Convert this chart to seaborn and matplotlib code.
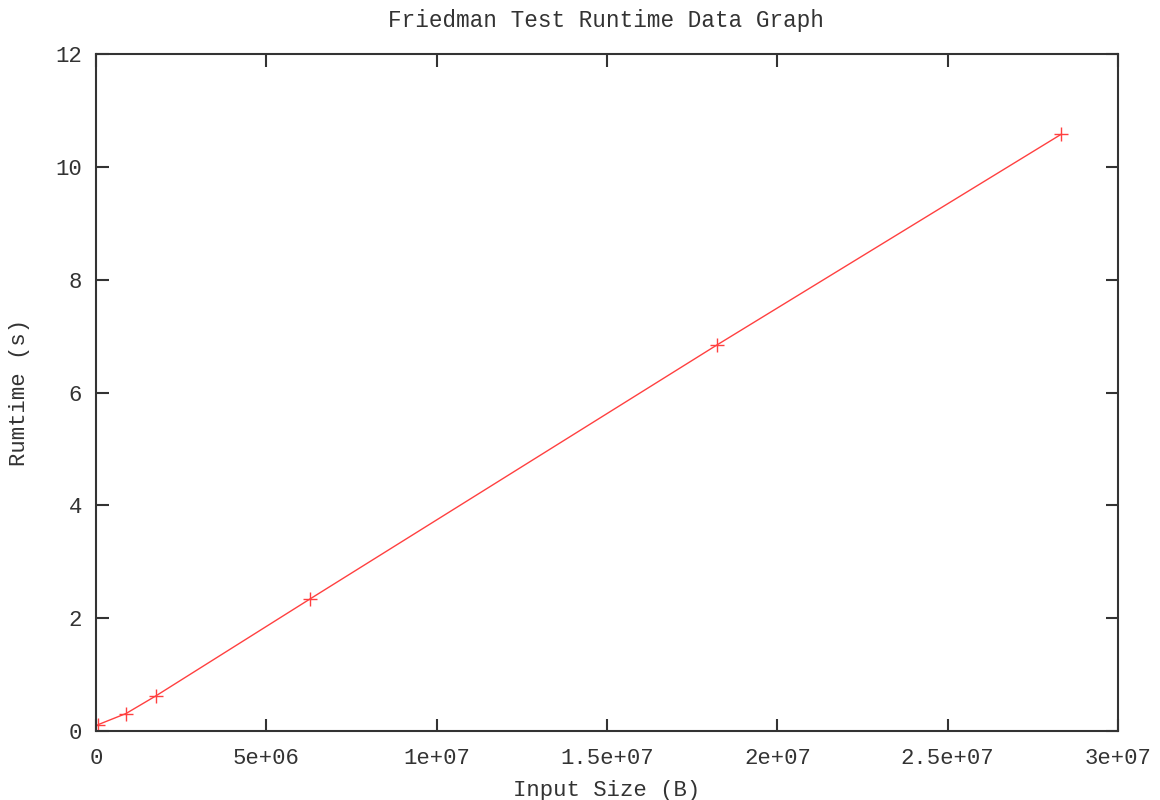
import matplotlib
matplotlib.use("Agg")
import matplotlib.pyplot as plt
import seaborn as sns
import pandas as pd

input_size = [50000, 880000, 1750000, 6280000, 18220000, 28340000]
runtime = [0.11, 0.31, 0.62, 2.34, 6.84, 10.58]
x_ticks = [0, 5e6, 1e7, 1.5e7, 2e7, 2.5e7, 3e7]
x_tick_labels = ["0", "5e+06", "1e+07", "1.5e+07", "2e+07", "2.5e+07", "3e+07"]
y_ticks = [0, 2, 4, 6, 8, 10, 12]

sns.set_style("white")
plt.rcParams['font.family'] = ['Liberation Mono', 'DejaVu Sans Mono']

df = pd.DataFrame({"size": input_size, "runtime": runtime})

fig = plt.figure(figsize=(11.6, 8), dpi=100)
ax = fig.add_axes([0.0828, 0.08625, 0.881, 0.84625])

sns.lineplot(data=df, x="size", y="runtime", ax=ax, color="#ff4040",
             linewidth=1.0, marker="+", markersize=10, markeredgewidth=1.0,
             markeredgecolor="#ff4040", sort=False)

ax.set_xlim(0, 3e7)
ax.set_ylim(0, 12)
ax.set_xticks(x_ticks)
ax.set_xticklabels(x_tick_labels)
ax.set_yticks(y_ticks)
ax.set_yticklabels([str(v) for v in y_ticks])

txt = "#333333"
for s in ax.spines.values():
    s.set_visible(True)
    s.set_color("#333333")
    s.set_linewidth(1.5)

ax.tick_params(axis="both", direction="in", length=9, width=1.5, color="#333333",
               labelsize=16, labelcolor=txt, top=True, right=True,
               bottom=True, left=True, pad=10)
ax.tick_params(axis="x", pad=12)

ax.set_xlabel("Input Size (B)", fontsize=16, color=txt, labelpad=8)
ax.set_ylabel("Rumtime (s)", fontsize=16, color=txt, labelpad=18)
fig.text(0.522, 0.975, "Friedman Test Runtime Data Graph", ha="center", va="center",
         fontsize=16.3, color=txt)

fig.savefig("out.png", dpi=100, facecolor="white")
